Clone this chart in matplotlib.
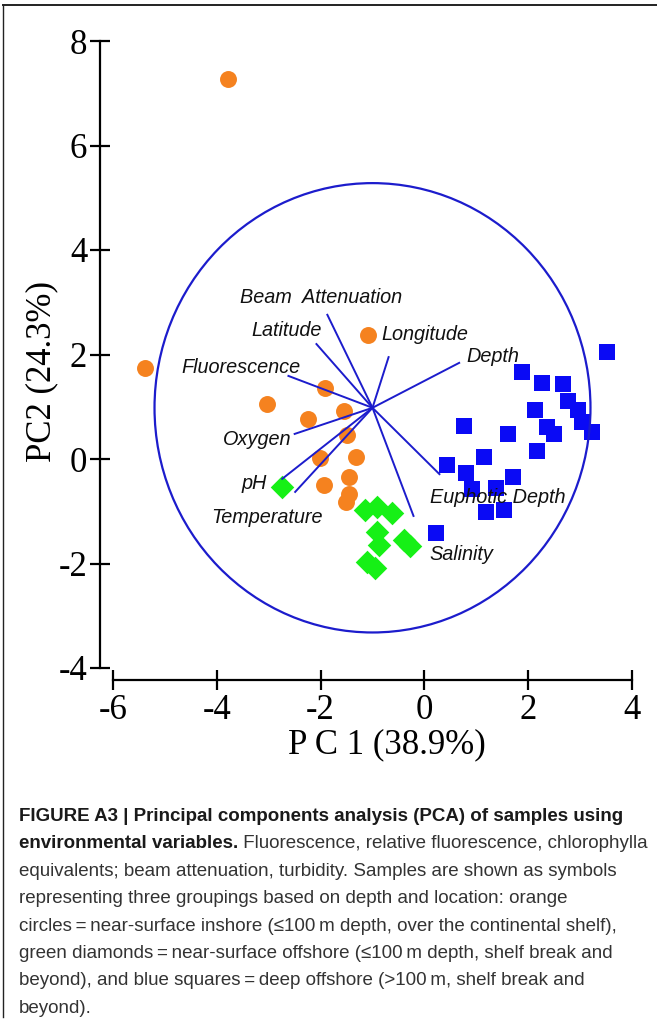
import matplotlib
matplotlib.use('Agg')
import matplotlib.pyplot as plt
from matplotlib.patches import Ellipse
from matplotlib.lines import Line2D
from matplotlib import font_manager

plt.rcParams['axes.unicode_minus'] = False

# Muestras (scores PC1, PC2)
orange_x = [-3.78, -5.38, -3.03, -1.91, -2.24, -1.54, -1.50, -2.02, -1.31, -1.93, -1.45, -1.45, -1.52, -1.08]
orange_y = [7.28, 1.74, 1.05, 1.36, 0.77, 0.92, 0.46, 0.02, 0.04, -0.50, -0.34, -0.67, -0.82, 2.38]

green_x = [-2.74, -1.14, -0.91, -0.62, -0.91, -0.87, -1.10, -0.96, -0.39, -0.27]
green_y = [-0.54, -0.98, -0.92, -1.03, -1.40, -1.65, -1.97, -2.09, -1.55, -1.67]

blue_x = [3.51, 1.89, 2.27, 2.68, 2.76, 2.95, 3.04, 3.22, 2.14, 2.37, 2.50, 0.77,
          1.62, 2.16, 1.14, 0.44, 0.81, 1.71, 0.91, 1.37, 1.19, 1.54, 0.23]
blue_y = [2.05, 1.67, 1.46, 1.44, 1.11, 0.94, 0.71, 0.52, 0.94, 0.61, 0.48, 0.63,
          0.48, 0.15, 0.04, -0.11, -0.27, -0.34, -0.57, -0.56, -1.02, -0.98, -1.42]

# Vectores de variables ambientales (extremos), origen comun
var_names = ['Beam  Attenuation', 'Latitude', 'Longitude', 'Fluorescence', 'Depth',
             'Oxygen', 'pH', 'Temperature', 'Euphotic Depth', 'Salinity']
var_x = [-1.87, -2.08, -0.69, -2.62, 0.67, -2.50, -2.74, -2.49, 0.29, -0.21]
var_y = [2.76, 2.20, 1.95, 1.59, 1.84, 0.48, -0.38, -0.63, -0.29, -1.09]
origin_x, origin_y = -1.0, 0.98
circle_w, circle_h = 8.4, 8.6

x_ticks = [-6, -4, -2, 0, 2, 4]
y_ticks = [-4, -2, 0, 2, 4, 6, 8]

# Posicion de las etiquetas (x, y de la linea base, alineacion)
label_pos = [(-3.56, 2.99, 'left'), (-1.98, 2.36, 'right'), (-0.83, 2.28, 'left'),
             (-2.39, 1.65, 'right'), (0.81, 1.86, 'left'), (-2.56, 0.27, 'right'),
             (-3.04, -0.57, 'right'), (-1.95, -1.23, 'right'), (0.10, -0.84, 'left'),
             (0.10, -1.93, 'left')]

W, H = 657, 1019
fig = plt.figure(figsize=(W / 100, H / 100), dpi=100)
ax = fig.add_axes([113 / W, 1 - 668 / H, (632 - 113) / W, (668 - 41) / H])

line_blue = '#1c1ccc'
ax.scatter(orange_x, orange_y, s=12.2 ** 2, marker='o', color='#f5821f', lw=0, zorder=2)
ax.scatter(green_x, green_y, s=12.0 ** 2, marker='D', color='#16f016', lw=0, zorder=2)
ax.scatter(blue_x, blue_y, s=11.8 ** 2, marker='s', color='#0a0af5', lw=0, zorder=2)

ax.add_patch(Ellipse((origin_x, origin_y), circle_w, circle_h, fill=False,
                     edgecolor=line_blue, lw=1.6, zorder=3))
for vx, vy in zip(var_x, var_y):
    ax.plot([origin_x, vx], [origin_y, vy], color=line_blue, lw=1.4, zorder=3)

for name, (lx, ly, ha) in zip(var_names, label_pos):
    ax.text(lx, ly, name, ha=ha, va='baseline', fontsize=14.3, style='italic',
            family='Liberation Sans', color='#111111', zorder=4)

ax.set_xlim(-6, 4)
ax.set_ylim(-4, 8)
ax.set_xticks(x_ticks)
ax.set_yticks(y_ticks)
ax.set_facecolor('none')
for s in ['top', 'right']:
    ax.spines[s].set_visible(False)
ax.spines['left'].set_position(('outward', 9.4))
ax.spines['bottom'].set_position(('outward', 8.6))
for s in ['left', 'bottom']:
    ax.spines[s].set_linewidth(1.6)
ax.tick_params(direction='inout', length=14.4, width=1.6, pad=2,
               labelsize=25, labelfontfamily='Liberation Serif')
ax.tick_params(axis='x', pad=3)

fig.text(387 / W, 1 - 745 / H, 'P C 1 (38.9%)', ha='center', va='center',
         fontsize=25, family='Liberation Serif')
fig.text(42 / W, 1 - 372 / H, 'PC2 (24.3%)', ha='center', va='center',
         rotation=90, fontsize=25, family='Liberation Serif')

# Marco de la figura
fig.add_artist(Line2D([3 / W, 1], [1 - 5 / H, 1 - 5 / H], color='#222222', lw=1.4,
                      transform=fig.transFigure))
fig.add_artist(Line2D([3 / W, 3 / W], [1 - 5 / H, 1 - 1017 / H], color='#222222', lw=1.0,
                      transform=fig.transFigure))

# Pie de figura
names = {f.name for f in font_manager.fontManager.ttflist}
if 'Liberation Sans Narrow' in names:
    cap_font, cap_size = 'Liberation Sans Narrow', 14.2
else:
    cap_font, cap_size = 'Liberation Sans', 13.5

caption = [
    ('FIGURE A3 | Principal components analysis (PCA) of samples using', ''),
    ('environmental variables.', ' Fluorescence, relative fluorescence, chlorophylla'),
    ('', 'equivalents; beam attenuation, turbidity. Samples are shown as symbols'),
    ('', 'representing three groupings based on depth and location: orange'),
    ('', 'circles\u2009=\u2009near-surface inshore (\u2264100\u2009m depth, over the continental shelf),'),
    ('', 'green diamonds\u2009=\u2009near-surface offshore (\u2264100\u2009m depth, shelf break and'),
    ('', 'beyond), and blue squares\u2009=\u2009deep offshore (>100\u2009m, shelf break and'),
    ('', 'beyond).'),
]
for i, (bold, regular) in enumerate(caption):
    yb = 1 - (821 + 27.4 * i) / H
    if bold:
        t = fig.text(19 / W, yb, bold, ha='left', va='baseline', fontsize=cap_size,
                     family=cap_font, weight='bold', color='#1a1a1a')
        if regular:
            ax.annotate(regular, xy=(1, 0), xycoords=t, ha='left', va='bottom',
                        fontsize=cap_size, family=cap_font, color='#333333',
                        annotation_clip=False)
    else:
        fig.text(19 / W, yb, regular, ha='left', va='baseline', fontsize=cap_size,
                 family=cap_font, color='#333333')

fig.savefig('out.png', dpi=100)
